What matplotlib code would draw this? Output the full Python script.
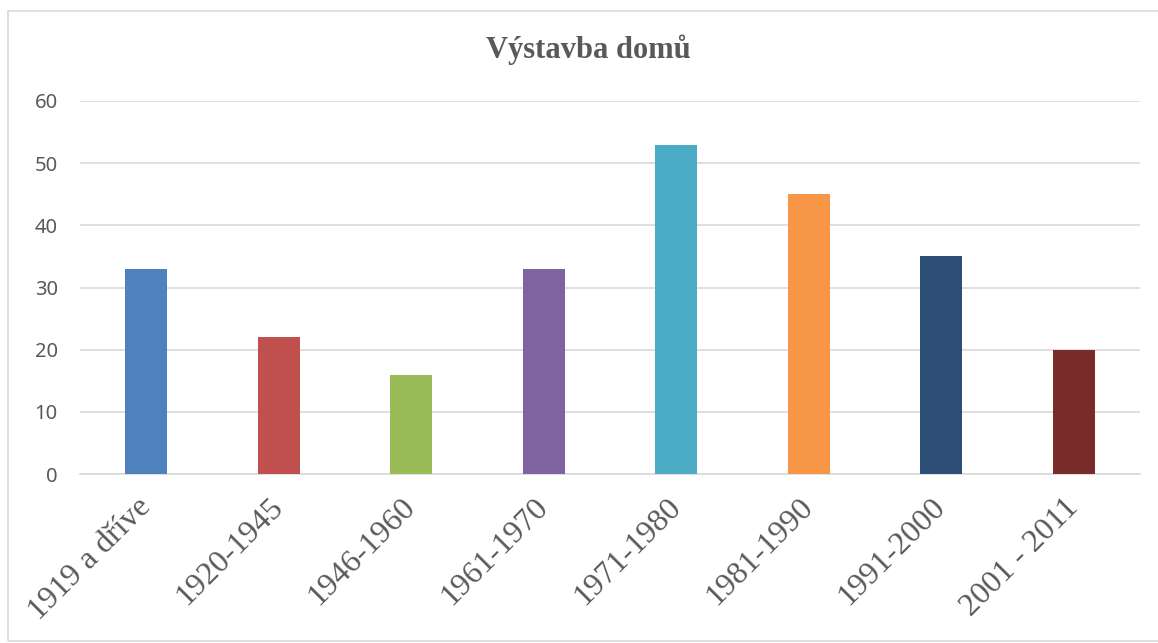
"""Výstavba domů -- bar chart of houses by construction period."""

import matplotlib
matplotlib.use("Agg")
import matplotlib.pyplot as plt
from matplotlib.patches import Rectangle

# -----------------------------------------------------------------------------
# Data
# -----------------------------------------------------------------------------
periods = ["1919 a dříve", "1920-1945", "1946-1960", "1961-1970",
           "1971-1980", "1981-1990", "1991-2000", "2001 - 2011"]
counts = [33, 22, 16, 33, 53, 45, 35, 20]
bar_colors = ["#4F81BD", "#C0504D", "#9BBB59", "#8064A2",
              "#4BACC6", "#F79646", "#2C4D75", "#772C2A"]
y_ticks = [0, 10, 20, 30, 40, 50, 60]

W, H = 1158, 643
TEXT_GRAY = "#595959"
GRID_GRAY = "#D9D9D9"

fig = plt.figure(figsize=(W / 100, H / 100), dpi=100)

# chart frame (right edge falls outside the image)
fig.patches.append(Rectangle((8 / W, 1 - 641 / H), 1.0, (641 - 11) / H,
                             transform=fig.transFigure, fill=False,
                             edgecolor=GRID_GRAY, linewidth=1.2))

ax = fig.add_axes([80 / W, 1 - 474 / H, (1140 - 80) / W, (474 - 101) / H])

x = range(len(periods))
ax.bar(x, counts, width=0.32, color=bar_colors, zorder=3)

ax.set_xlim(-0.5, len(periods) - 0.5)
ax.set_ylim(0, 60)
ax.set_yticks(y_ticks)
ax.yaxis.grid(True, color=GRID_GRAY, linewidth=1.2, zorder=0)
ax.set_axisbelow(True)

for side in ["top", "right", "left"]:
    ax.spines[side].set_visible(False)
ax.spines["bottom"].set_color(GRID_GRAY)
ax.spines["bottom"].set_linewidth(1.2)

ax.tick_params(axis="both", length=0)
ax.tick_params(axis="y", pad=16)
for lbl in ax.get_yticklabels():
    lbl.set_fontfamily("Noto Sans")
    lbl.set_fontsize(14.5)
    lbl.set_color(TEXT_GRAY)

ax.set_xticks(list(x))
ax.set_xticklabels(periods, rotation=45, ha="right", va="center",
                   rotation_mode="anchor", fontfamily="Liberation Serif",
                   fontsize=23, color=TEXT_GRAY)
ax.tick_params(axis="x", pad=21)

fig.text(588 / W, 1 - 50 / H, "Výstavba domů", ha="center", va="center",
         fontfamily="Liberation Serif", fontweight="bold", fontsize=22,
         color=TEXT_GRAY)

fig.savefig("out.png", dpi=100)
